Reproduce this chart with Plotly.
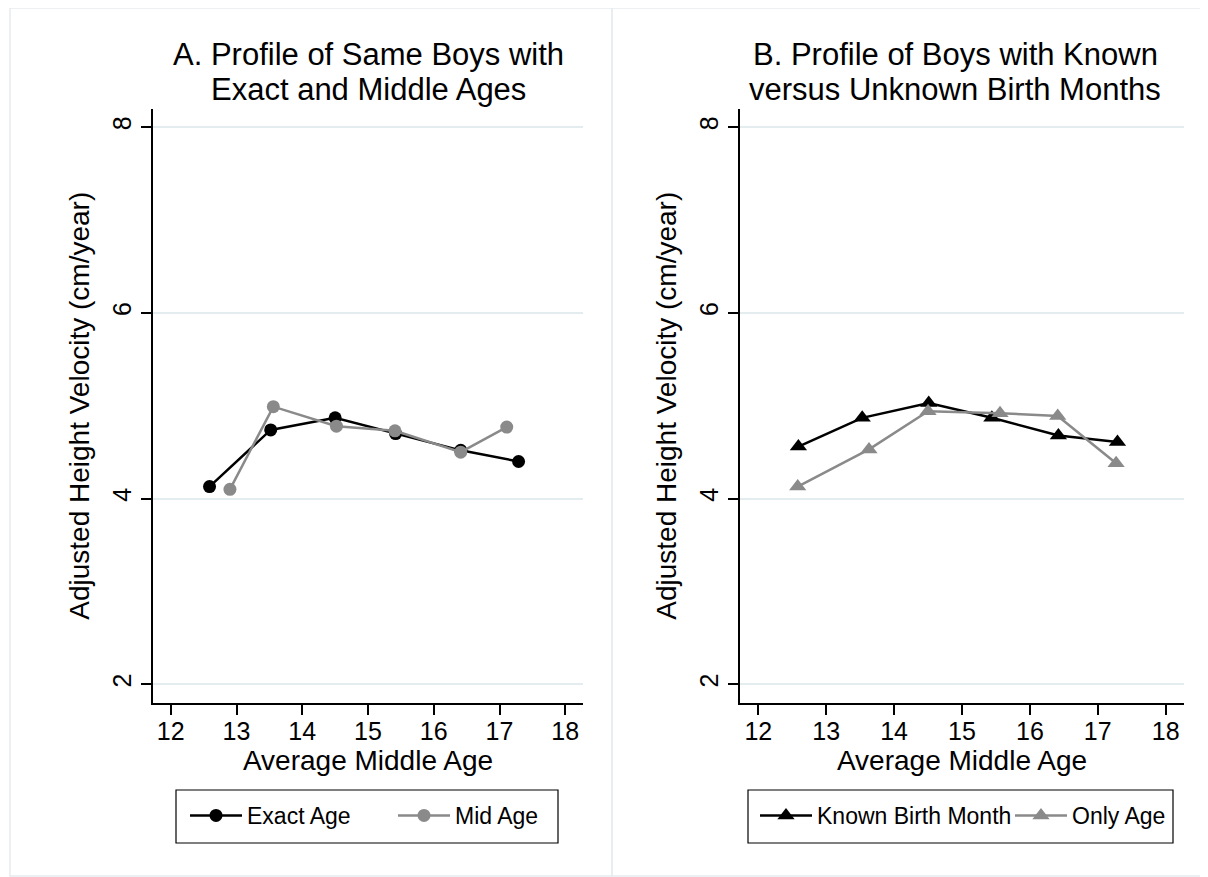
import plotly.graph_objects as go

# Panel A: same boys, exact vs middle ages
exact_age_x = [12.59, 13.52, 14.50, 15.42, 16.41, 17.29]
exact_age_y = [4.13, 4.74, 4.87, 4.70, 4.52, 4.40]
mid_age_x = [12.90, 13.56, 14.52, 15.41, 16.41, 17.11]
mid_age_y = [4.10, 4.99, 4.78, 4.73, 4.50, 4.77]

# Panel B: known vs unknown birth months
known_x = [12.59, 13.53, 14.51, 15.44, 16.42, 17.29]
known_y = [4.56, 4.87, 5.03, 4.87, 4.68, 4.61]
only_age_x = [12.58, 13.63, 14.50, 15.56, 16.41, 17.27]
only_age_y = [4.13, 4.53, 4.94, 4.92, 4.89, 4.38]

x_ticks = [12, 13, 14, 15, 16, 17, 18]
y_ticks = [2, 4, 6, 8]

W, H = 1208, 877
OFF = 8  # the page body adds an 8px margin around the plot div
FONT = "Liberation Sans, Arial, Helvetica, sans-serif"
GRAY = "#8a8a8a"
GRID = "#e3ecee"

fig = go.Figure()

fig.add_trace(go.Scatter(x=exact_age_x, y=exact_age_y, mode="lines+markers", name="Exact Age",
                         line=dict(color="black", width=2.5), marker=dict(symbol="circle", size=13),
                         xaxis="x", yaxis="y", legend="legend"))
fig.add_trace(go.Scatter(x=mid_age_x, y=mid_age_y, mode="lines+markers", name="Mid Age",
                         line=dict(color=GRAY, width=2.5), marker=dict(symbol="circle", size=13),
                         xaxis="x", yaxis="y", legend="legend"))
fig.add_trace(go.Scatter(x=known_x, y=known_y, mode="lines+markers", name="Known Birth Month",
                         line=dict(color="black", width=2.5), marker=dict(symbol="triangle-up", size=15),
                         xaxis="x2", yaxis="y2", legend="legend2"))
fig.add_trace(go.Scatter(x=only_age_x, y=only_age_y, mode="lines+markers", name="Only Age",
                         line=dict(color=GRAY, width=2.5), marker=dict(symbol="triangle-up", size=15),
                         xaxis="x2", yaxis="y2", legend="legend2"))

# screen pixel -> paper helpers
def px(x):
    return (x - OFF) / W

def py(y):
    return 1 - (y - OFF) / H

xaxis_common = dict(range=[11.73, 18.27], tickvals=x_ticks, showgrid=False, zeroline=False,
                    showline=True, linecolor="black", linewidth=1.5, ticks="outside", ticklen=10,
                    tickwidth=1.5, tickcolor="black", tickfont=dict(size=25, color="black"),
                    ticklabelstandoff=-5,
                    title=dict(text="Average Middle Age", font=dict(size=28, color="black"), standoff=0))
yaxis_common = dict(range=[1.8, 8.2], tickvals=y_ticks, showgrid=True, gridcolor=GRID, gridwidth=1.5,
                    zeroline=False, showline=True, linecolor="black", linewidth=1.5, ticks="outside",
                    ticklen=10, tickwidth=1.5, tickcolor="black", tickangle=-90,
                    tickfont=dict(size=25, color="black"),
                    title=dict(text="Adjusted Height Velocity (cm/year)", font=dict(size=28, color="black"),
                               standoff=10))

legend_common = dict(orientation="h", xanchor="left", yanchor="top", borderwidth=0,
                     font=dict(size=23, color="black", family=FONT), bgcolor="rgba(0,0,0,0)",
                     itemwidth=52)

fig.update_layout(
    width=W, height=H,
    margin=dict(l=0, r=0, t=0, b=0, autoexpand=False),
    paper_bgcolor="white", plot_bgcolor="white",
    font=dict(family=FONT, color="black"),
    xaxis=dict(domain=[px(153), px(583)], anchor="y", **xaxis_common),
    yaxis=dict(domain=[py(703), py(108.5)], anchor="x", **yaxis_common),
    xaxis2=dict(domain=[px(740), px(1184)], anchor="y2", **xaxis_common),
    yaxis2=dict(domain=[py(703), py(108.5)], anchor="x2", **yaxis_common),
    legend=dict(x=px(185), y=py(794), entrywidth=141, **legend_common),
    legend2=dict(x=px(755), y=py(794), entrywidth=188, **legend_common),
)

# faint panel frames
for x0, x1 in [(10, 612), (612, 1207)]:
    fig.add_shape(type="rect", xref="paper", yref="paper", x0=px(x0), x1=px(x1), y0=py(876), y1=py(8),
                  line=dict(color="#e6ecee", width=1.5), layer="below")

# legend boxes
for x0, x1 in [(176, 558), (748, 1173)]:
    fig.add_shape(type="rect", xref="paper", yref="paper", x0=px(x0), x1=px(x1), y0=py(843), y1=py(790),
                  line=dict(color="black", width=1.2), fillcolor="white", layer="below")

titles = [
    ("A. Profile of Same Boys with", "Exact and Middle Ages", 368),
    ("B. Profile of Boys with Known", "versus Unknown Birth Months", 955),
]
for line1, line2, cx in titles:
    for text, cy in [(line1, 54), (line2, 90)]:
        fig.add_annotation(text=text, xref="paper", yref="paper", x=px(cx), y=py(cy), xanchor="center",
                           yanchor="middle", showarrow=False,
                           font=dict(size=31, color="black", family=FONT))

fig.write_html("out.html", config={"displayModeBar": False})
